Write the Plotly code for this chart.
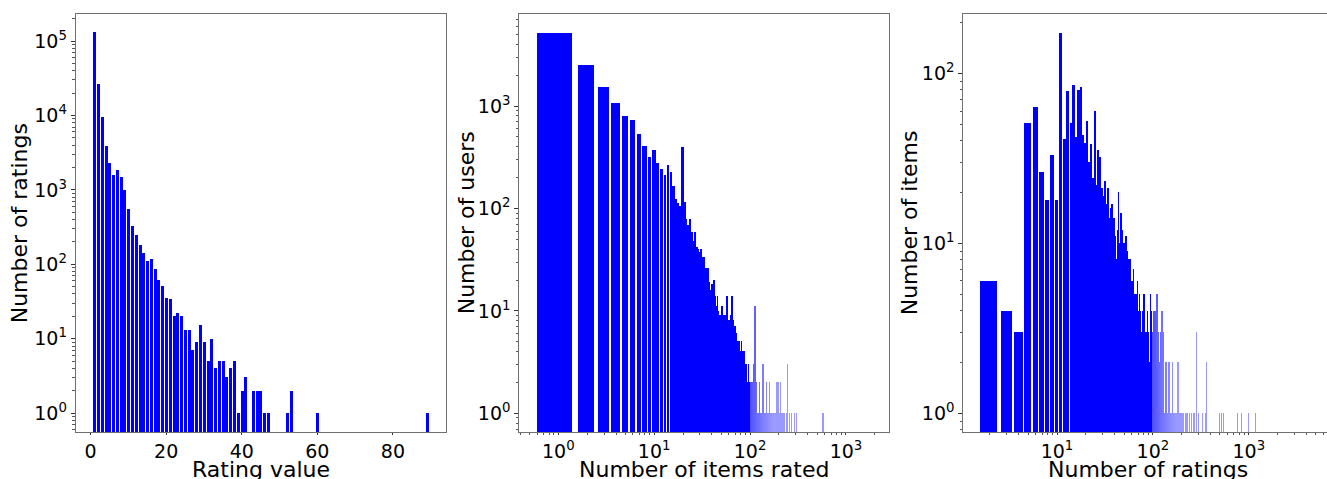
import plotly.graph_objects as go

# ---------------- data ----------------
# Panel 1: rating value -> number of ratings
rating_values = list(range(1, 42)) + [43, 44, 45, 46, 47, 52, 53, 60, 89]
rating_counts = [129000, 26100, 9400, 3870, 2310, 1590, 1840, 1500, 990, 555,
                 328, 248, 180, 142, 111, 117, 86, 62, 51, 35,
                 34, 20, 22, 20, 13, 13, 7, 9, 15, 9,
                 5, 10, 4, 5, 5, 3, 4, 5, 1, 2,
                 3, 2, 2, 2, 1, 1, 1, 2, 1, 1]

# Panel 2: number of items rated -> number of users
items_rated_head = list(range(1, 101))
users_head = [5170, 2500, 1535, 1070, 798, 730, 525, 403, 315, 369,
              277, 242, 212, 261, 223, 164, 124, 112, 106, 397,
              115, 79, 68, 79, 59, 48, 59, 42, 40, 37,
              40, 33, 33, 23, 26, 24, 26, 19, 16, 18,
              14, 20, 14, 12, 11, 14, 10, 8, 9, 5,
              11, 9, 8, 9, 6, 9, 8, 14, 7, 5,
              8, 6, 9, 5, 14, 7, 6, 8, 5, 7,
              4, 6, 5, 4, 5, 3, 4, 5, 3, 4,
              3, 5, 2, 4, 3, 2, 4, 3, 2, 3,
              2, 1, 3, 2, 1, 2, 3, 1, 2, 2]
items_rated_tail = [101, 102, 103, 104, 105, 107, 108, 110, 111, 113, 116, 118, 120,
                    122, 124, 127, 130, 133, 137, 140, 143, 146, 149, 152, 156, 161,
                    165, 170, 175, 180, 186, 192, 197, 203, 210, 215, 222, 230, 240,
                    250, 262, 275, 290, 306, 580]
users_tail = [1, 2, 1, 2, 1, 1, 2, 1, 3, 11, 1, 2, 1,
              1, 1, 2, 1, 1, 3, 1, 1, 1, 2, 1, 1, 2,
              1, 1, 1, 1, 1, 2, 2, 1, 2, 1, 1, 1, 1,
              3, 1, 1, 1, 1, 1]

# Panel 3: number of ratings -> number of items
ratings_head = list(range(2, 101))
items_head = [6, 4, 3, 51, 63, 26, 18, 33, 18,
              172, 41, 78, 51, 85, 42, 79, 83, 43, 39,
              52, 30, 38, 24, 60, 22, 35, 32, 21, 21,
              19, 23, 17, 21, 14, 9, 16, 17, 14, 14,
              11, 8, 12, 20, 8, 10, 15, 12, 9, 10,
              9, 8, 11, 9, 8, 7, 6, 8, 5, 6,
              4, 6, 7, 5, 4, 3, 5, 4, 2, 6,
              4, 3, 5, 2, 4, 3, 1, 4, 2, 3,
              5, 4, 2, 3, 1, 3, 2, 4, 1, 2,
              3, 1, 2, 1, 5, 3, 4, 2, 1, 2]
ratings_tail = [101, 102, 103, 104, 105, 106, 107, 108, 109, 110, 111, 112, 113, 114,
                115, 116, 118, 119, 120, 121, 122, 123, 125, 126, 127, 128, 130, 131,
                133, 135, 136, 138, 140, 142, 144, 147, 149, 150, 152, 155, 158, 160,
                163, 166, 170, 173, 177, 180, 184, 188, 193, 199, 205, 212, 220, 228,
                240, 255, 270, 286, 300, 328, 355, 366, 500, 520, 552, 760, 835, 1011, 1188]
items_tail = [3, 2, 4, 1, 3, 2, 4, 1, 2, 4, 5, 2, 1, 3,
              2, 1, 2, 1, 3, 1, 2, 1, 4, 1, 2, 3, 1, 2,
              1, 2, 1, 1, 2, 1, 1, 2, 1, 2, 1, 1, 1, 2,
              1, 1, 1, 1, 1, 1, 2, 1, 1, 1, 1, 1, 1, 1,
              1, 1, 1, 3, 1, 1, 1, 2, 1, 1, 1, 1, 1, 1, 1]

# ---------------- figure ----------------
W, H = 1327, 479
BLUE = "#0000ff"
FONT = "DejaVu Sans"


def nz(xs, ys):
    pairs = [(x, y) for x, y in zip(xs, ys) if y > 0]
    return [p[0] for p in pairs], [p[1] for p in pairs]


def bar_colors(xs):
    # sub-pixel bars on the log axes look anti-aliased (lighter) in the reference;
    # use opaque tints so plotly still draws them at least 1px wide
    out = []
    for x in xs:
        a = 1.0 if x <= 100 else max(0.4, min(1.0, 70.0 / x))
        c = int(round(255 * (1 - a)))
        out.append(f"rgb({c},{c},255)")
    return out


x1, y1 = nz(rating_values, rating_counts)
x2, y2 = nz(items_rated_head + items_rated_tail, users_head + users_tail)
x3, y3 = nz(ratings_head + ratings_tail, items_head + items_tail)

fig = go.Figure()
fig.add_trace(go.Bar(x=x1, y=y1, width=0.8, marker=dict(color=BLUE, line_width=0),
                     xaxis="x", yaxis="y"))
fig.add_trace(go.Bar(x=x2, y=y2, width=0.8, marker=dict(color=bar_colors(x2), line_width=0),
                     xaxis="x2", yaxis="y2"))
fig.add_trace(go.Bar(x=x3, y=y3, width=0.8, marker=dict(color=bar_colors(x3), line_width=0),
                     xaxis="x3", yaxis="y3"))


def px_x(p):
    return p / W


def px_y(p):
    return 1 - p / H


top, bot = 14.3, 432.3
ydom = [px_y(bot), px_y(top)]

LINE = "#707070"
TICKC = "#333333"
tickfont = dict(family=FONT, size=19, color="black")


def minor_log(lo, hi):
    vals = []
    for e in range(lo, hi + 1):
        for m in range(2, 10):
            vals.append(m * 10 ** e)
    return vals


def pow_ticks(lo, hi):
    return [10 ** e for e in range(lo, hi + 1)], [f"10<sup>{e}</sup>" for e in range(lo, hi + 1)]


common_y = dict(showgrid=False, zeroline=False, showline=True, linecolor=LINE, linewidth=1,
                ticks="outside", ticklen=4, tickwidth=1, tickcolor=TICKC, tickfont=tickfont)
common_x = dict(common_y, ticklen=2)

minor_style = dict(ticks="outside", ticklen=2.5, tickwidth=0.8, tickcolor="#555555", showgrid=False)
minor_style_x = dict(minor_style, ticklen=1.5)

tv1, tt1 = pow_ticks(0, 5)
tv2, tt2 = pow_ticks(0, 3)
tv3, tt3 = pow_ticks(0, 2)
txv2, txt2 = pow_ticks(0, 3)
txv3, txt3 = pow_ticks(1, 3)

fig.update_layout(
    width=W, height=H,
    margin=dict(l=0, r=0, t=0, b=0, autoexpand=False),
    paper_bgcolor="white", plot_bgcolor="white",
    showlegend=False, bargap=0,
    font=dict(family=FONT, color="black"),
    xaxis=dict(domain=[px_x(75.7), px_x(446)], anchor="y", range=[-3.95, 94.05],
               tickvals=[0, 20, 40, 60, 80], mirror=True, **common_x),
    yaxis=dict(domain=ydom, anchor="x", type="log", range=[-0.256, 5.359],
               tickvals=tv1, ticktext=tt1, mirror=True,
               minor=dict(tickvals=minor_log(-1, 5), **minor_style), **common_y),
    xaxis2=dict(domain=[px_x(519.3), px_x(889.3)], anchor="y2", type="log", range=[-0.407, 3.452],
                tickvals=txv2, ticktext=txt2, mirror=True,
                minor=dict(tickvals=minor_log(-1, 3), **minor_style_x), **common_x),
    yaxis2=dict(domain=ydom, anchor="x2", type="log", range=[-0.186, 3.896],
                tickvals=tv2, ticktext=tt2, mirror=True,
                minor=dict(tickvals=minor_log(-1, 3), **minor_style), **common_y),
    xaxis3=dict(domain=[px_x(963.3), 1.0], anchor="y3", type="log", range=[0.023, 3.815],
                tickvals=txv3, ticktext=txt3, mirror=True,
                minor=dict(tickvals=minor_log(0, 3), **minor_style_x), **common_x),
    yaxis3=dict(domain=ydom, anchor="x3", type="log", range=[-0.112, 2.347],
                tickvals=tv3, ticktext=tt3, mirror=False,
                minor=dict(tickvals=minor_log(-1, 2), **minor_style), **common_y),
)

title_font = dict(family=FONT, size=22, color="black")
annots = []
for xc, text in [(261, "Rating value"), (704, "Number of items rated"), (1148, "Number of ratings")]:
    annots.append(dict(text=text, x=px_x(xc), y=px_y(469), xref="paper", yref="paper",
                       xanchor="center", yanchor="middle", showarrow=False, font=title_font))
for xc, text in [(19, "Number of ratings"), (466, "Number of users"), (909, "Number of items")]:
    annots.append(dict(text=text, x=px_x(xc), y=px_y(223.3), xref="paper", yref="paper",
                       xanchor="center", yanchor="middle", textangle=-90, showarrow=False,
                       font=title_font))
fig.update_layout(annotations=annots)

fig.write_html("out.html",
               config={"displayModeBar": False},
               post_script="document.body.style.margin='0';document.body.style.padding='0';"
                           "document.documentElement.style.overflow='hidden';")
